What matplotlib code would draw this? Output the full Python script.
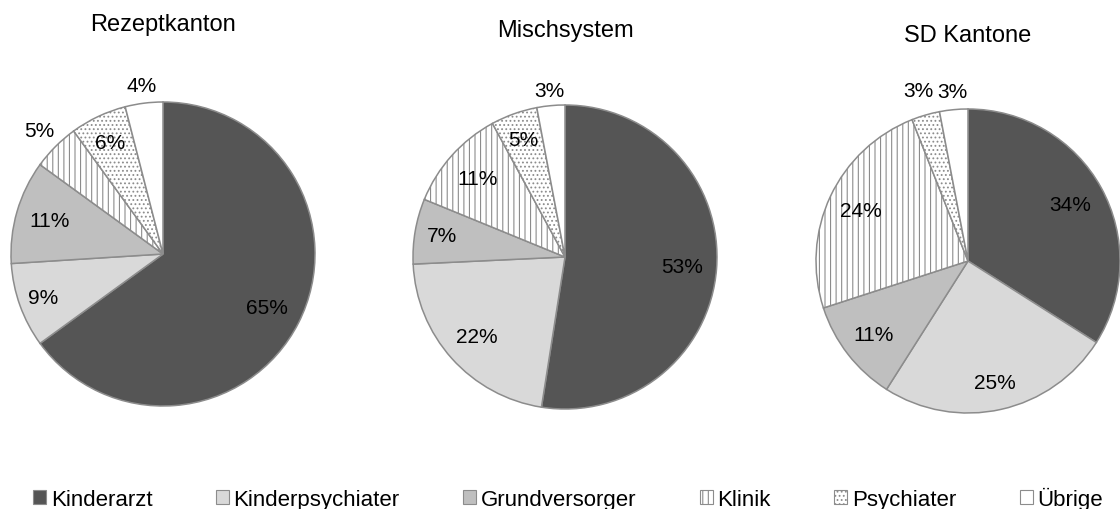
import numpy as np
import matplotlib
matplotlib.use("Agg")
import matplotlib.pyplot as plt
from matplotlib.patches import Patch

plt.rcParams['font.family'] = ['Liberation Sans', 'DejaVu Sans']

categories = ["Kinderarzt", "Kinderpsychiater", "Grundversorger", "Klinik",
              "Psychiater", "Übrige"]
titles = ["Rezeptkanton", "Mischsystem", "SD Kantone"]
rezeptkanton = [65, 9, 11, 5, 6, 4]
mischsystem = [53, 22, 7, 11, 5, 3]
sd_kantone = [34, 25, 11, 24, 3, 3]

# slice styling (grayscale + hatches like the original)
FACES = ["#555555", "#d9d9d9", "#bfbfbf", "white", "white", "white"]
HATCHES = [None, None, None, "|||", "....", None]
EDGE = "#8c8c8c"

# pixel layout: (center x, center y from top, radius, title y from top)
W, H = 1120, 510
LAYOUT = [(163, 255, 152, 25), (565, 258, 152, 31), (968, 262, 152, 36)]
# radial distance of each label (fraction of radius)
LABEL_R = [[0.77, 0.84, 0.78, 1.15, 0.81, 1.12],
           [0.77, 0.78, 0.82, 0.77, 0.82, 1.10],
           [0.77, 0.82, 0.79, 0.78, 1.17, 1.12]]


def drawPie(fig, values, title, layout, label_r):
  cx, cy, r, ty = layout
  ax = fig.add_axes([(cx - r) / W, (H - cy - r) / H, 2 * r / W, 2 * r / H])
  wedges, _ = ax.pie(values, startangle=90, counterclock=False, radius=1,
                     colors=FACES,
                     wedgeprops=dict(edgecolor=EDGE, linewidth=1.1))
  for w, h in zip(wedges, HATCHES):
    if h:
      w.set_hatch(h)
  for w, v, lr in zip(wedges, values, label_r):
    mid = np.deg2rad((w.theta1 + w.theta2) / 2)
    ax.text(lr * np.cos(mid), lr * np.sin(mid), f"{v}%", ha='center',
            va='center', fontsize=15, color="black", clip_on=False)
  ax.text(0, (cy - ty) / r, title, ha='center', va='center', fontsize=17,
          clip_on=False)
  ax.set_xlim(-1, 1)
  ax.set_ylim(-1, 1)
  ax.set_aspect('equal')
  ax.axis('off')
  return wedges


fig = plt.figure(figsize=(W / 100, H / 100), dpi=100)
plt.rcParams['hatch.linewidth'] = 0.8
for vals, title, lay, lr in zip([rezeptkanton, mischsystem, sd_kantone],
                                titles, LAYOUT, LABEL_R):
  drawPie(fig, vals, title, lay, lr)

handles = [Patch(facecolor=f, edgecolor=EDGE, hatch=h, linewidth=0.8)
           for f, h in zip(FACES, HATCHES)]
fig.legend(handles, categories, loc='center', ncol=6, frameon=False,
           bbox_to_anchor=(568 / W, 1 - 499 / H), fontsize=16,
           handlelength=0.6, handleheight=0.6, handletextpad=0.2,
           columnspacing=2.85)

fig.savefig("out.png", dpi=100, facecolor="white")
